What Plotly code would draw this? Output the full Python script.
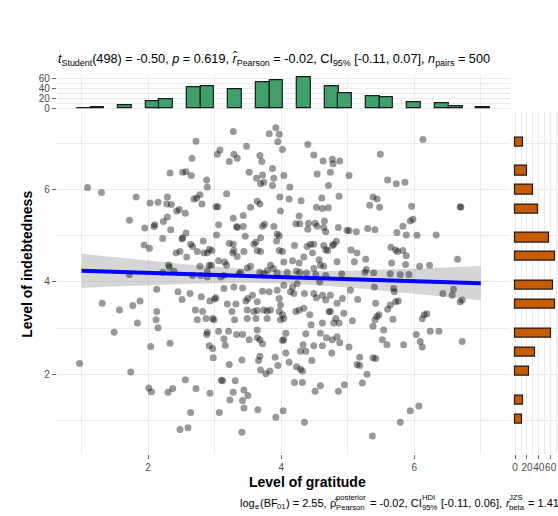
import numpy as np
import plotly.graph_objects as go

# ---- scatter data (jittered points) ----
gratitude = [
 3.28,3.92,3.82,3.97,3.95,2.72,3.48,3.08,3.04,3.29,3.34,3.22,2.66,3.68,3.71,2.33,2.52,2.57,2.65,3.52,
 3.63,3.72,3.69,3.74,3.89,3.87,3.87,2.88,2.89,1.09,1.30,1.82,2.03,2.15,2.29,2.28,2.35,2.69,2.73,2.78,
 2.81,3.18,3.02,3.05,3.64,3.68,3.54,3.98,2.43,2.47,2.56,1.72,2.29,2.23,2.10,2.09,1.95,2.34,3.28,3.43,
 3.06,3.33,3.34,3.43,3.99,3.72,3.75,3.89,2.57,2.52,2.51,2.22,3.03,3.46,3.69,3.62,3.59,3.94,3.97,3.93,
 2.83,1.94,2.02,2.64,2.67,2.74,2.84,2.89,2.92,2.96,2.42,2.48,2.58,3.22,3.28,3.27,3.34,3.29,3.44,3.64,
 3.69,3.97,2.31,2.32,2.39,2.22,2.78,2.92,2.95,2.89,3.06,3.15,3.18,3.54,3.49,3.39,3.84,3.88,3.94,3.79,
 1.72,3.68,3.74,2.67,2.79,3.14,3.37,3.09,
 6.13,4.40,4.49,4.63,4.77,4.78,4.88,5.49,4.02,4.54,4.74,4.71,5.02,4.04,4.13,5.60,5.73,5.86,4.30,4.12,
 4.61,4.87,4.53,4.62,4.71,5.33,5.38,5.44,5.48,5.96,6.69,6.70,4.27,4.22,4.28,4.41,4.51,4.54,4.65,4.64,
 4.67,4.40,4.86,4.99,5.02,5.13,5.30,5.41,5.83,5.94,5.98,5.74,5.88,6.04,6.33,4.20,4.39,4.44,4.49,4.47,
 4.64,4.67,4.77,4.79,4.70,4.83,4.34,4.17,4.04,4.27,4.02,4.57,4.59,4.64,4.49,4.84,5.05,5.14,5.10,5.27,
 5.28,5.65,5.72,5.75,5.83,5.88,5.87,5.66,6.08,6.23,6.65,4.23,4.28,4.38,4.09,4.91,5.26,5.39,5.64,5.79,
 5.92,
 2.89,2.13,1.31,1.57,1.77,1.88,1.84,2.45,2.63,2.51,2.80,2.93,3.00,3.02,3.14,3.29,3.42,3.19,3.32,3.47,
 3.50,3.57,3.72,3.82,3.94,3.97,3.64,2.13,2.12,2.15,1.49,2.71,2.82,2.74,2.87,2.97,2.99,3.26,3.30,3.49,
 3.59,3.64,3.74,3.79,3.84,3.97,3.62,3.49,3.79,3.99,2.89,2.88,3.06,3.21,3.14,3.33,3.42,3.52,3.64,3.64,
 3.68,3.72,2.04,2.33,2.92,2.97,3.16,2.98,3.22,3.41,3.68,3.66,3.91,3.95,0.97,1.74,3.69,3.77,3.83,2.56,
 3.12,3.10,3.31,2.01,2.05,2.30,2.37,2.72,2.93,3.28,3.44,3.50,3.23,3.42,3.44,3.65,3.92,2.64,3.07,2.48,
 2.60,3.41,
 4.52,4.67,4.04,4.17,4.24,4.14,4.19,4.35,4.49,4.53,4.62,4.67,4.74,4.58,5.04,5.15,5.40,5.69,5.70,5.76,
 5.72,6.43,6.59,6.57,6.69,6.72,3.99,4.02,4.04,4.22,4.27,4.34,4.43,4.62,4.45,4.72,4.74,4.84,4.92,4.82,
 4.79,4.87,4.94,5.07,5.42,5.60,5.64,5.47,5.44,5.41,5.68,5.38,5.54,6.12,6.15,6.19,6.24,6.37,6.03,6.09,
 6.12,5.84,6.72,4.07,4.04,4.02,4.37,4.59,4.68,4.77,4.84,4.88,5.02,4.33,4.49,4.62,5.52,5.59,4.07,4.29,
 4.37,4.46,4.12,4.23,4.29,4.32,4.76,5.18,5.38,5.42,5.14,5.18,5.29,4.20,4.32,4.59,4.51,4.86,4.95,5.22,
 4.03,4.35,5.94,6.07,5.79,5.37,
]
indebtedness = [
 7.26,7.34,7.21,7.20,7.04,7.05,6.94,6.86,6.77,6.77,6.68,6.61,6.68,6.74,6.61,6.36,6.38,6.39,6.31,6.38,
 6.25,6.32,6.13,6.16,6.25,6.46,6.09,6.21,6.06,6.05,5.94,5.84,5.71,5.73,5.84,5.69,5.68,5.80,5.82,5.89,
 5.69,5.91,5.63,5.63,5.75,5.69,5.62,5.84,5.54,5.57,5.49,5.34,5.41,5.31,5.24,5.20,5.17,5.13,5.38,5.44,
 5.24,5.20,5.18,5.20,5.54,5.21,5.25,5.20,5.06,4.96,4.93,4.94,5.02,4.99,4.96,4.86,4.82,5.04,5.00,4.89,
 4.89,4.80,4.73,4.82,4.77,4.66,4.63,4.63,4.71,4.68,4.63,4.66,4.54,4.84,4.82,4.63,4.55,4.68,4.66,4.68,
 4.66,4.68,4.37,4.32,4.23,4.21,4.34,4.36,4.36,4.23,4.46,4.43,4.37,4.34,4.30,4.21,4.36,4.29,4.20,4.25,
 4.16,4.21,4.18,4.14,4.14,4.14,4.18,4.11,
 7.09,6.98,6.75,6.62,6.66,6.56,6.62,6.77,6.87,6.34,6.38,6.09,6.31,6.31,6.06,6.21,6.13,6.16,5.76,5.80,
 5.82,5.86,5.62,5.59,5.61,5.66,5.84,5.80,5.62,5.64,5.63,5.62,5.43,5.26,5.26,5.27,5.27,5.21,5.32,5.18,
 5.09,5.14,5.18,5.12,5.11,5.09,5.16,5.13,5.21,5.32,5.36,5.07,5.02,5.01,5.02,4.79,4.77,4.82,4.82,4.63,
 4.79,4.70,4.79,4.82,4.68,4.88,4.54,4.46,4.43,4.41,4.66,4.48,4.36,4.34,4.29,4.44,4.69,4.63,4.44,4.49,
 4.27,4.75,4.69,4.66,4.68,4.57,4.38,4.41,4.34,4.36,4.49,4.24,4.21,4.20,4.21,4.18,4.21,4.20,4.18,4.16,
 4.16,
 4.11,3.84,3.54,3.39,3.49,3.59,3.11,3.79,3.75,3.62,3.68,3.59,3.63,3.66,3.86,3.89,3.87,3.52,3.52,3.59,
 3.64,3.71,3.80,3.79,3.82,3.64,3.57,3.36,3.18,3.01,2.91,3.39,3.36,3.18,3.21,3.21,3.18,3.36,3.18,3.39,
 3.36,3.38,3.39,3.37,3.39,3.36,3.21,3.21,3.21,3.18,2.91,2.86,2.93,2.93,2.77,2.86,2.86,2.75,2.96,2.79,
 2.75,2.66,2.60,2.67,2.62,2.56,2.63,2.36,2.21,2.31,2.39,2.30,2.37,2.19,2.23,2.05,2.09,2.01,2.07,1.88,
 1.86,1.87,1.86,1.70,1.62,1.61,1.69,1.69,1.59,1.61,1.66,1.54,1.44,1.43,1.27,1.23,1.07,1.17,1.17,0.80,
 0.84,0.74,
 4.16,4.14,3.93,3.89,3.96,3.79,3.75,3.75,3.75,3.66,3.71,3.61,3.71,4.00,3.82,3.62,3.89,3.86,3.79,3.59,
 3.57,3.75,3.84,3.71,3.57,3.61,3.50,3.29,3.21,3.36,3.39,3.43,3.29,3.11,3.07,3.36,3.36,3.54,3.64,3.21,
 3.11,3.11,3.32,3.16,3.54,3.41,3.50,3.29,3.25,3.18,3.19,3.04,2.96,3.20,3.29,3.31,2.93,2.93,2.86,2.71,
 2.59,2.64,2.71,2.89,2.75,2.73,2.88,2.89,2.79,2.75,2.81,2.68,2.59,2.64,2.62,2.62,2.75,2.64,2.46,2.50,
 2.50,2.30,2.26,2.16,2.11,2.07,2.46,2.37,2.36,2.34,2.21,2.19,2.00,1.82,1.82,1.75,1.63,1.63,1.77,1.81,
 1.21,0.96,1.21,1.31,0.96,0.66,
]

# discrete levels of gratitude (range of the raw, un-jittered variable)
gratitude_levels = [1.0, 1.33, 1.67, 2.0, 2.33, 2.67, 3.0, 3.33, 3.67, 4.0,
                    4.33, 4.67, 5.0, 5.33, 5.67, 6.0, 6.33, 6.67, 7.0]

# ---- marginal histograms ----
x_bin_centers = [1.03, 1.24, 1.65, 2.07, 2.27, 2.69, 2.89, 3.31, 3.72, 3.93,
                 4.34, 4.76, 4.96, 5.38, 5.58, 6.00, 6.41, 6.62, 7.03]
x_bin_counts = [1, 3, 6, 15, 19, 43, 45, 39, 54, 58, 64, 45, 30, 24, 23, 13, 11, 5, 2]

y_bin_centers = [7.03, 6.41, 6.00, 5.58, 4.96, 4.55, 3.93, 3.51, 2.89, 2.48, 2.07, 1.44, 1.03]
y_bin_counts = [13, 21, 30, 39, 57, 67, 64, 68, 60, 33, 23, 14, 11]

subtitle = ("<i>t</i><sub>Student</sub>(498) = -0.50, <i>p</i> = 0.619, "
            "<i>r\u0302</i><sub>Pearson</sub> = -0.02, CI<sub>95%</sub> [-0.11, 0.07], "
            "<i>n</i><sub>pairs</sub> = 500")
# caption pieces: (kind, text) ; kind: n = normal, i = italic, sub = subscript, stack = (sup, sub)
caption_parts = [
    ("n", "log"), ("sub", "e"), ("n", "(BF"), ("sub", "01"), ("n", ") = 2.55, "),
    ("n", "\u03c1\u0302"), ("stack", ("posterior", "Pearson")), ("n", " = -0.02, CI"),
    ("stack", ("HDI", "95%")), ("n", " [-0.11, 0.06], "),
    ("i", "r"), ("stack", ("JZS", "beta")), ("n", " = 1.41"),
]

# ---- regression fit with 95% CI ----
xa = np.array(gratitude); ya = np.array(indebtedness)
n = len(xa)
slope, intercept = np.polyfit(xa, ya, 1)
resid = ya - (intercept + slope * xa)
s = np.sqrt(np.sum(resid ** 2) / (n - 2))
xbar = xa.mean(); sxx = np.sum((xa - xbar) ** 2)
fx = np.linspace(min(gratitude_levels), max(gratitude_levels), 100)
fy = intercept + slope * fx
se = s * np.sqrt(1.0 / n + (fx - xbar) ** 2 / sxx)
tq = 1.965
lo = fy - tq * se; hi = fy + tq * se

W, H = 558, 516
def px(v): return v / W
def py(v): return 1 - v / H

FONT = "Liberation Sans, Arial, Helvetica, sans-serif"
GRID = "#EBEBEB"
TICKC = "#4D4D4D"

# Arial / Liberation Sans advance widths (1/1000 em)
AW = {' ': 278, '(': 333, ')': 333, ',': 278, '-': 333, '.': 278, '=': 584, '[': 278, ']': 278,
      '%': 889, 'a': 556, 'b': 556, 'c': 500, 'd': 556, 'e': 556, 'f': 278, 'g': 556, 'h': 556,
      'i': 222, 'l': 222, 'n': 556, 'o': 556, 'p': 556, 'r': 333, 's': 500, 't': 278, 'u': 556,
      'B': 667, 'C': 722, 'D': 722, 'F': 611, 'H': 722, 'I': 278, 'J': 500, 'P': 667, 'S': 667,
      'Z': 611, '\u03c1': 577, '\u0302': 0}
for d in "0123456789":
    AW[d] = 556
def tw(t, size):
    return sum(AW.get(c, 556) for c in t) * size / 1000.0

fig = go.Figure()
fig.add_trace(go.Scatter(x=np.concatenate([fx, fx[::-1]]), y=np.concatenate([hi, lo[::-1]]),
                         fill="toself", fillcolor="rgba(153,153,153,0.4)", line=dict(width=0),
                         mode="lines", hoverinfo="skip", showlegend=False, xaxis="x", yaxis="y"))
fig.add_trace(go.Scatter(x=gratitude, y=indebtedness, mode="markers",
                         marker=dict(size=7, color="rgba(0,0,0,0.4)", line=dict(width=0)),
                         showlegend=False, xaxis="x", yaxis="y"))
fig.add_trace(go.Scatter(x=fx, y=fy, mode="lines", line=dict(color="#0000FF", width=4),
                         showlegend=False, xaxis="x", yaxis="y"))
fig.add_trace(go.Bar(x=x_bin_centers, y=x_bin_counts, width=0.207,
                     marker=dict(color="#40A06C", line=dict(color="#1A1A1A", width=1.2)),
                     showlegend=False, xaxis="x2", yaxis="y2"))
fig.add_trace(go.Bar(y=y_bin_centers, x=y_bin_counts, width=0.2, orientation="h",
                     marker=dict(color="#C85A00", line=dict(color="#1A1A1A", width=1.2)),
                     showlegend=False, xaxis="x3", yaxis="y3"))

main_x = [px(56), px(510)]
main_y = [py(457), py(111)]
tickfont = dict(family=FONT, size=10, color=TICKC)
common = dict(showline=False, zeroline=False, gridcolor=GRID, gridwidth=1,
              ticks="outside", ticklen=4, tickcolor="#666666", tickwidth=1, tickfont=tickfont)

annotations = [
    dict(text=subtitle, x=px(55), y=py(58), xref="paper", yref="paper",
         xanchor="left", yanchor="middle", showarrow=False,
         font=dict(family=FONT, size=12.7, color="black")),
    dict(text="<b>Level of gratitude</b>", x=px(307), y=py(486), xref="paper", yref="paper",
         xanchor="center", yanchor="middle", showarrow=False,
         font=dict(family=FONT, size=14, color="black")),
    dict(text="<b>Level of indebtedness</b>", x=px(26), y=py(265), xref="paper", yref="paper",
         xanchor="center", yanchor="middle", showarrow=False, textangle=-90,
         font=dict(family=FONT, size=14, color="black")),
]

# caption built piece by piece so that stacked super/subscripts line up like plotmath
B, S = 11.0, 7.7
CAP_Y, SUP_Y, SUB_Y = 506.5, 501.5, 511.5
widths = []
for kind, t in caption_parts:
    if kind == "stack":
        widths.append(max(tw(t[0], S), tw(t[1], S)) + 0.8)
    elif kind == "sub":
        widths.append(tw(t, S) + 0.5)
    else:
        widths.append(tw(t, B))
cursor = 557 - sum(widths)
for (kind, t), w in zip(caption_parts, widths):
    base = dict(xref="paper", yref="paper", xanchor="left", yanchor="middle", showarrow=False)
    if kind == "stack":
        annotations.append(dict(text=t[0], x=px(cursor), y=py(SUP_Y),
                                font=dict(family=FONT, size=S, color="black"), **base))
        annotations.append(dict(text=t[1], x=px(cursor), y=py(SUB_Y),
                                font=dict(family=FONT, size=S, color="black"), **base))
    elif kind == "sub":
        annotations.append(dict(text=t, x=px(cursor), y=py(SUB_Y - 1),
                                font=dict(family=FONT, size=S, color="black"), **base))
    else:
        txt = "<i>%s</i>" % t if kind == "i" else t
        annotations.append(dict(text=txt, x=px(cursor), y=py(CAP_Y),
                                font=dict(family=FONT, size=B, color="black"), **base))
    cursor += w

fig.update_layout(
    width=W, height=H, margin=dict(l=0, r=0, t=0, b=0, pad=0),
    paper_bgcolor="white", plot_bgcolor="white", bargap=0,
    font=dict(family=FONT),
    xaxis=dict(domain=main_x, range=[0.63, 7.44], tickvals=[2, 4, 6], anchor="y",
               minor=dict(tickvals=[1, 3, 5, 7], showgrid=True, gridcolor=GRID, ticks=""), **common),
    yaxis=dict(domain=main_y, range=[0.278, 7.69], tickvals=[2, 4, 6], anchor="x",
               minor=dict(tickvals=[1, 3, 5, 7], showgrid=True, gridcolor=GRID, ticks=""), **common),
    xaxis2=dict(domain=main_x, matches="x", anchor="y2", showticklabels=False, ticks="",
                tickvals=[2, 4, 6], showgrid=True, gridcolor=GRID, zeroline=False,
                minor=dict(tickvals=[1, 3, 5, 7], showgrid=True, gridcolor=GRID)),
    yaxis2=dict(domain=[py(109.3), py(74.1)], range=[-3.2, 67.2], anchor="x2",
                tickvals=[0, 20, 40, 60],
                minor=dict(tickvals=[10, 30, 50], showgrid=True, gridcolor=GRID, ticks=""),
                **common),
    xaxis3=dict(domain=[px(513), 1.0], range=[-3.45, 72.45], anchor="y3",
                tickvals=[0, 20, 40, 60], tickangle=0,
                minor=dict(tickvals=[10, 30, 50, 70], showgrid=True, gridcolor=GRID, ticks=""),
                **common),
    yaxis3=dict(domain=main_y, matches="y", anchor="x3", showticklabels=False, ticks="",
                tickvals=[2, 4, 6], showgrid=True, gridcolor=GRID, zeroline=False,
                minor=dict(tickvals=[1, 3, 5, 7], showgrid=True, gridcolor=GRID)),
    annotations=annotations,
)

fig.write_html("out.html", config={"displayModeBar": False},
               post_script="document.body.style.margin='0px';")
